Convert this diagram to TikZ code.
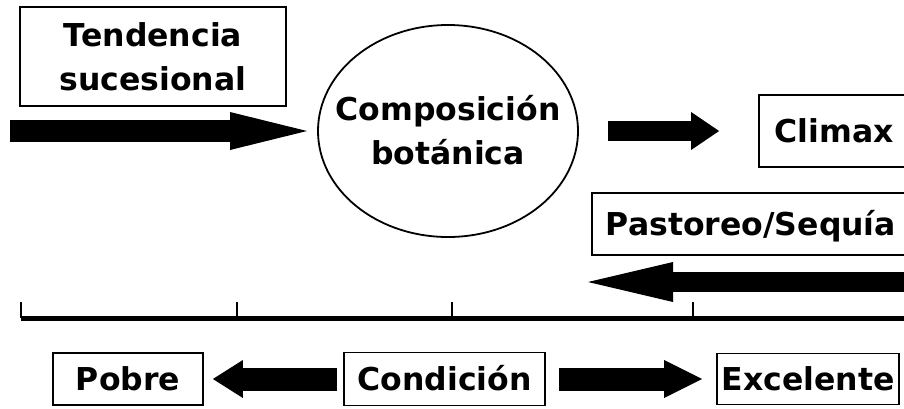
\documentclass[tikz,border=0pt]{standalone}
\usepackage{fontspec}
\setmainfont{DejaVu Sans}
\usetikzlibrary{arrows.meta,shapes.geometric}
\tikzset{
  lbl/.style={font=\fontsize{31.5}{44}\selectfont\bfseries},
  framed/.style={draw, line width=1.8pt, lbl, inner sep=0pt},
  onebox/.style={framed, text height=23pt, text depth=0pt},
  fat/.style n args={3}{line width=#1, -{Triangle[length=#2, width=#3, line width=0pt]}},
  tick/.style={line width=1.8pt},
  axis/.style={line width=5pt},
  oval/.style={line width=1.8pt}
}
\begin{document}
\begin{tikzpicture}[x=1pt,y=-1pt]
\path[use as bounding box, clip] (0,0) rectangle (904,408);
\fill[white] (0,0) rectangle (904,408);

% top row
\node[framed, align=center, minimum width=266pt, minimum height=99pt] (tend) at (153,56.5) {Tendencia\\sucesional};
\node[lbl, align=center, inner sep=0pt] (comp) at (448,130) {Composición\\botánica};
\draw[oval] (448,131) ellipse [x radius=130, y radius=106];
\coordinate (compW) at (318,131);
\coordinate (compE) at (578,131);
\node[onebox, minimum width=150pt, minimum height=72pt] (climax) at (834,131) {Climax};
\node[onebox, minimum width=318pt, minimum height=62pt] (past) at (751,224) {Pastoreo/Sequía};

\coordinate (a0) at (10,131);
\draw[fat={22pt}{77pt}{38pt}] (a0) -- ([xshift=-11pt]compW);
\draw[fat={20pt}{28pt}{38pt}] ([xshift=30pt]compE) -- ([xshift=-39pt]climax.west);

\coordinate (g1) at (915,282);
\coordinate (g2) at (588,282);
\draw[fat={20pt}{85pt}{40pt}] (g1) -- (g2);

% axis
\coordinate (ax0) at (21,318);
\coordinate (ax1) at (910,318);
\draw[axis] (ax0) -- (ax1);
\foreach \t in {21,237,452,693} {
  \coordinate (tk\t) at (\t,318);
  \draw[tick] (tk\t) -- ++(0,-16);
}

% bottom row
\node[onebox, minimum width=150pt, minimum height=52pt] (pobre) at (128,379) {Pobre};
\node[onebox, minimum width=201pt, minimum height=53pt] (cond) at (444.5,379) {Condición};
\node[onebox, minimum width=182pt, minimum height=51pt] (exc) at (808,379) {Excelente};

\draw[fat={23pt}{30pt}{38pt}] ([xshift=-6pt]cond.west) -- ([xshift=9pt]pobre.east);
\draw[fat={23pt}{38pt}{38pt}] ([xshift=13pt]cond.east) -- ([xshift=-14pt]exc.west);
\end{tikzpicture}
\end{document}
